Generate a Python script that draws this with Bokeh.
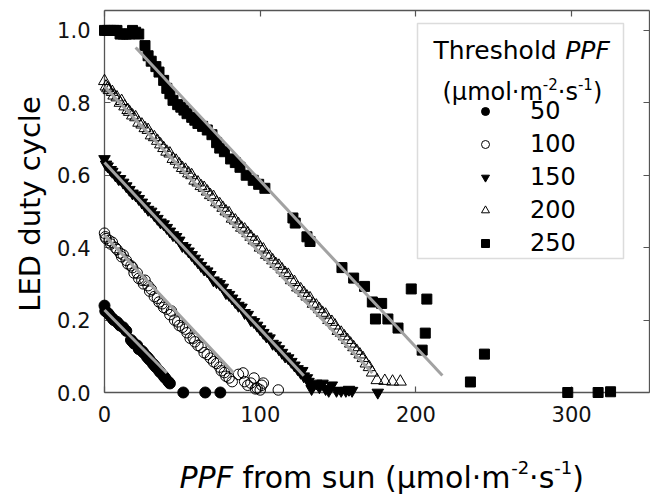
import math
import numpy as np
from bokeh.plotting import figure
from bokeh.models import (Range1d, LinearAxis, FixedTicker, PrintfTickFormatter,
                          Legend, LegendItem, BoxAnnotation)
from bokeh.core.properties import value
from bokeh.embed import file_html
from bokeh.resources import INLINE

# ---------------- data ----------------
thresholds = ["50", "100", "150", "200", "250"]
x_ticks = [0, 100, 200, 300]
y_ticks = [0.0, 0.2, 0.4, 0.6, 0.8, 1.0]

x50 = [0, 0.5, 2, 3, 5, 6, 8, 9, 10, 12, 14, 17, 18, 19, 21, 22, 24, 25, 27, 28,
       29, 31, 32, 33, 35, 36, 38, 39, 41, 42, 50.6, 64.7, 74.4]
y50 = [0.24, 0.225, 0.22, 0.215, 0.205, 0.2, 0.195, 0.19, 0.185, 0.18, 0.17, 0.145,
       0.14, 0.135, 0.13, 0.12, 0.115, 0.11, 0.1, 0.095, 0.09, 0.08, 0.075, 0.07,
       0.06, 0.055, 0.045, 0.04, 0.03, 0.025, 0.0, 0.0, 0.0]

x100 = [0, 0.5, 1, 3, 4, 5, 7, 8, 10, 11, 12, 14, 15, 17, 18, 19, 21, 22, 24, 25,
        26, 28, 29, 30, 32, 34, 35, 37, 38, 40, 42, 43, 45, 47, 48, 50, 52, 53, 55, 57,
        58, 60, 62, 64, 66, 68, 70, 72, 74, 75, 77, 78, 80, 82, 86, 89, 90, 92, 94, 96,
        97, 98, 100, 101, 102, 111.6]
y100 = [0.44, 0.43, 0.425, 0.42, 0.41, 0.415, 0.4, 0.395, 0.385, 0.375, 0.38, 0.365,
        0.355, 0.35, 0.345, 0.33, 0.33, 0.315, 0.31, 0.3, 0.31, 0.295, 0.28, 0.285,
        0.265, 0.26, 0.25, 0.245, 0.235, 0.23, 0.215, 0.225, 0.2, 0.195, 0.185, 0.18,
        0.175, 0.165, 0.15, 0.15, 0.14, 0.13, 0.125, 0.11, 0.105, 0.095, 0.085, 0.08,
        0.07, 0.06, 0.055, 0.045, 0.04, 0.03, 0.05, 0.054, 0.03, 0.02, 0.026, 0.04,
        0.01, 0.012, 0.007, 0.02, 0.026, 0.007]

x150 = [0, 1, 2, 4, 5, 7, 9, 10, 12, 14, 16, 18, 20, 22, 24, 26, 28, 30, 32, 34,
        36, 38, 40, 42, 44, 46, 48, 50, 52, 54, 56, 58, 60, 62, 64, 66, 68, 70, 72, 74,
        76, 78, 80, 82, 84, 86, 88, 90, 92, 94, 96, 98, 100, 102, 104, 106, 108, 110,
        112, 114, 116, 118, 120, 122, 124, 126, 127, 128, 130, 131, 133, 134, 136, 138,
        140, 142, 144, 146, 149, 152, 155, 157, 159, 175.5]
y150 = [0.645, 0.63, 0.625, 0.615, 0.61, 0.6, 0.59, 0.59, 0.58, 0.57, 0.56, 0.55,
        0.545, 0.535, 0.525, 0.515, 0.505, 0.5, 0.49, 0.48, 0.47, 0.465, 0.455, 0.445,
        0.435, 0.43, 0.42, 0.405, 0.4, 0.39, 0.38, 0.37, 0.36, 0.35, 0.34, 0.335,
        0.325, 0.31, 0.305, 0.3, 0.29, 0.275, 0.27, 0.26, 0.25, 0.24, 0.235, 0.22,
        0.215, 0.2, 0.195, 0.185, 0.175, 0.165, 0.155, 0.15, 0.135, 0.13, 0.12, 0.11,
        0.1, 0.095, 0.085, 0.075, 0.065, 0.055, 0.06, 0.045, 0.04, 0.03, 0.01, 0.02,
        0.025, 0.015, 0.025, 0.01, 0.005, 0.02, 0.005, 0.005, 0.005, 0.008, 0.005, 0.0]

x200 = [0, 1, 2, 3, 5, 6, 8, 10, 11, 13, 15, 16, 18, 20, 22, 24, 26, 28, 30, 32,
        34, 36, 38, 40, 42, 44, 46, 48, 50, 52, 54, 56, 58, 60, 62, 64, 66, 68, 70, 72,
        74, 76, 78, 80, 82, 84, 86, 88, 90, 92, 94, 96, 98, 100, 102, 104, 106, 108,
        110, 112, 114, 116, 118, 120, 122, 124, 126, 128, 130, 132, 134, 136, 138, 140,
        142, 144, 146, 148, 150, 152, 154, 156, 158, 160, 162, 164, 166, 168, 170, 172,
        175, 180, 185, 190]
y200 = [0.86, 0.845, 0.84, 0.835, 0.83, 0.82, 0.815, 0.8, 0.805, 0.79, 0.78, 0.775,
        0.765, 0.76, 0.745, 0.74, 0.73, 0.725, 0.71, 0.705, 0.695, 0.685, 0.675, 0.665,
        0.66, 0.645, 0.64, 0.63, 0.62, 0.615, 0.605, 0.6, 0.585, 0.58, 0.57, 0.565,
        0.555, 0.545, 0.54, 0.525, 0.52, 0.51, 0.5, 0.495, 0.48, 0.475, 0.465, 0.455,
        0.45, 0.44, 0.43, 0.42, 0.415, 0.4, 0.395, 0.38, 0.375, 0.365, 0.355, 0.35,
        0.34, 0.33, 0.325, 0.31, 0.305, 0.29, 0.285, 0.275, 0.265, 0.26, 0.245, 0.24,
        0.23, 0.22, 0.215, 0.2, 0.195, 0.185, 0.17, 0.165, 0.155, 0.145, 0.135, 0.125,
        0.115, 0.105, 0.095, 0.08, 0.07, 0.055, 0.034, 0.032, 0.03, 0.03]

x250 = [0, 2, 4, 6, 8, 10, 12, 14, 16, 18, 20, 22, 26, 28, 30, 33, 35, 38, 40, 42,
        44, 47, 49, 51, 53, 56, 58, 60, 63, 66, 69, 72, 74, 77, 81, 84, 87, 91, 95.5, 99,
        103, 121, 122.5, 130, 132, 152.5, 160, 167, 172, 178, 174, 182, 188.5, 197, 207,
        206, 204, 235, 244, 297.5, 317, 325]
y250 = [1.0, 1.0, 1.0, 1.0, 1.0, 0.99, 0.99, 0.99, 0.99, 1.0, 0.995, 0.99, 0.958, 0.93,
        0.915, 0.9, 0.885, 0.862, 0.84, 0.825, 0.807, 0.795, 0.788, 0.78, 0.77, 0.76,
        0.752, 0.743, 0.735, 0.725, 0.712, 0.69, 0.675, 0.665, 0.645, 0.635, 0.622, 0.6,
        0.586, 0.575, 0.564, 0.482, 0.468, 0.43, 0.417, 0.345, 0.316, 0.293, 0.25, 0.246,
        0.203, 0.203, 0.178, 0.286, 0.258, 0.164, 0.117, 0.029, 0.106, 0.0, 0.0, 0.002]

# regression lines (start x, end x, intercept, slope)
fit_x0 = [0, 0, 0, 0, 20]
fit_x1 = [40, 83, 128, 172, 217]
fit_b = [0.228, 0.434, 0.635, 0.845, 1.045]
fit_m = [-0.00435, -0.00458, -0.0046, -0.0046, -0.0046]

# ---------------- layout ----------------
XMAX, YMAX = 350, 1.055
FL, FR, FT, FB = 104, 649, 10, 392
FONT = "DejaVu Sans"


def X(px):
    return (px - FL) / (FR - FL) * XMAX


def Y(py):
    return (FB - py) / (FB - FT) * YMAX


p = figure(width=650, height=495, output_backend="svg", toolbar_location=None,
           x_range=Range1d(0, XMAX), y_range=Range1d(0, YMAX),
           min_border_left=FL, min_border_right=650 - FR, min_border_top=FT,
           min_border_bottom=495 - FB)
p.xgrid.visible = False
p.ygrid.visible = False
p.outline_line_color = None
p.background_fill_color = "white"
p.border_fill_color = "white"

bottom_ax = p.below[0]
left_ax = p.left[0]
top_ax = LinearAxis()
right_ax = LinearAxis()
p.add_layout(top_ax, "above")
p.add_layout(right_ax, "right")

AX_COL = "#555555"
for ax in [bottom_ax, top_ax]:
    ax.ticker = FixedTicker(ticks=x_ticks)
    ax.formatter = PrintfTickFormatter(format="%d")
for ax in [left_ax, right_ax]:
    ax.ticker = FixedTicker(ticks=y_ticks)
    ax.formatter = PrintfTickFormatter(format="%.1f")

for ax in [bottom_ax, left_ax, top_ax, right_ax]:
    ax.axis_line_color = AX_COL
    ax.axis_line_width = 1.3
    ax.major_tick_line_color = AX_COL
    ax.major_tick_line_width = 1.2
    ax.major_tick_in = 6
    ax.major_tick_out = 0
    ax.minor_tick_line_color = None
    ax.major_label_text_font = FONT
    ax.major_label_text_font_size = "21px"
    ax.major_label_text_color = "#111111"
    ax.axis_label = None

left_ax.major_label_standoff = 14
bottom_ax.major_label_standoff = 13
for ax in [top_ax, right_ax]:
    ax.major_label_text_font_size = "1px"
    ax.major_label_text_color = None
    ax.major_label_standoff = 0

# ---------------- data marks ----------------
series = [
    (x50, y50, dict(marker="circle", size=11, fill_color="black", line_color="black")),
    (x100, y100, dict(marker="circle", size=10.5, fill_color=None, line_color="black", line_width=1)),
    (x150, y150, dict(marker="inverted_triangle", size=11.5, fill_color="black", line_color="black")),
    (x200, y200, dict(marker="triangle", size=12, fill_color=None, line_color="black", line_width=1)),
    (x250, y250, dict(marker="square", size=10, fill_color="black", line_color="black")),
]
renderers = []
for xs, ys, kw in series:
    r = p.scatter(xs, ys, level="overlay", **kw)
    renderers.append(r)

for x0, x1, b, m in zip(fit_x0, fit_x1, fit_b, fit_m):
    lx = np.array([x0, x1], dtype=float)
    p.line(lx, b + m * lx, line_color="#a2a2a2", line_width=3, level="overlay")

# ---------------- text helpers ----------------
W = {" ": 0.318, "(": 0.390, ")": 0.390, "·": 0.318, "-": 0.361, "1": 0.636,
     "2": 0.636, "f": 0.352, "r": 0.411, "o": 0.612, "m": 0.974, "s": 0.521,
     "u": 0.634, "n": 0.634, "l": 0.278, "μ": 0.636, "P": 0.603, "F": 0.575,
     "T": 0.611, "h": 0.634, "e": 0.615, "d": 0.635}


def tw(s, size):
    return sum(W.get(c, 0.6) for c in s) * size


def put_text(text, px, py, size, style="normal", angle=0.0, align="left"):
    p.text(x=[X(px)], y=[Y(py)], text=[text], angle=angle,
           text_font=value(FONT), text_font_size=value(f"{size}px"),
           text_font_style=value(style), text_color="black",
           text_align=value(align), text_baseline=value("alphabetic"),
           level="overlay")


def put_pieces(items, x0, base):
    cur = x0
    for text, size, style, dy in items:
        lead = len(text) - len(text.lstrip(" "))
        cur += tw(" " * lead, size)
        body = text.strip(" ")
        put_text(body, cur, base - dy, size, style)
        cur += tw(body, size) + tw(" " * (len(text.lstrip(" ")) - len(body)), size)


# x-axis title
put_pieces([("PPF", 30, "italic", 0), (" from sun (μmol·m", 30, "normal", 0),
            ("-2", 18, "normal", 10), ("·s", 30, "normal", 0),
            ("-1", 18, "normal", 10), (")", 30, "normal", 0)], 179, 477)

# y-axis title
put_text("LED duty cycle", 29, 203.5, 29, angle=math.pi / 2, align="center")

# ---------------- legend ----------------
p.add_layout(BoxAnnotation(left=X(417), right=X(623), top=Y(23), bottom=Y(258),
                           fill_color="white", fill_alpha=1.0,
                           line_color="#8c8c8c", line_width=1.5))
put_pieces([("Threshold", 25, "normal", 0), (" PPF", 25, "italic", 0)], 433, 50)
put_pieces([("(μmol·m", 24, "normal", 0), ("-2", 15, "normal", 8),
            ("·s", 24, "normal", 0), ("-1", 15, "normal", 8),
            (")", 24, "normal", 0)], 442, 91)

legend = Legend(items=[LegendItem(label=t, renderers=[r]) for t, r in zip(thresholds, renderers)],
                location=(475 - FL, FB - 257), orientation="vertical",
                padding=0, margin=0, spacing=5, glyph_width=20, glyph_height=28,
                label_height=28, label_standoff=35, border_line_color=None,
                background_fill_alpha=0.0, label_text_font=FONT,
                label_text_font_size="24px", label_text_color="black")
p.add_layout(legend)

open("out.html", "w").write(file_html(p, INLINE))
